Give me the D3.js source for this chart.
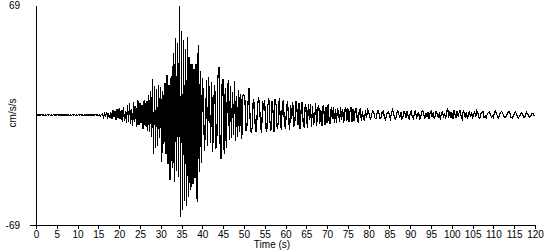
<!DOCTYPE html>
<html>
<head>
<meta charset="utf-8">
<script src="https://cdn.jsdelivr.net/npm/d3@7"></script>
<style>
    body { margin: 0; background: #fff; }
    text { font-family: 'Liberation Sans', Arial, sans-serif; font-size: 10px; fill: #000; }
</style>
</head>
<body>
<div class="chart"></div>
<script>
const width = 550;
const height = 250;

// x tick labels (s) and y range labels (cm/s/s)
const timeTicks = [0, 5, 10, 15, 20, 25, 30, 35, 40, 45, 50, 55, 60, 65, 70, 75, 80, 85, 90, 95, 100, 105, 110, 115, 120];
const accelTicks = [-69, 69];

// sample spacing of the trace, seconds
const dt = 0.25;

// acceleration trace, cm/s/s (4 samples per second)
const accel = [
    0, 0.2, -0.2, 0.1, -0.2, 0.2, -0.1, 0.2, -0.2, 0.1, -0.2, 0.2, -0.1, 0.2, -0.2, 0.1,
    -0.2, 0.2, -0.2, 0.1, -0.1, 0.2, -0.2, 0.2, -0.2, 0.1, -0.1, 0.2, -0.2, 0.2, -0.1, 0.1,
    -0.2, 0.1, -0.2, 0.2, -0.1, 0.2, -0.2, 0.1, -0.2, 0.2, -0.1, 0.2, -0.2, 0.1, -0.2, 0.2,
    -0.1, 0.2, -0.2, 0.1, -0.2, 0.2, -0.3, 0.2, -0.2, 0.3, -0.2, 0.3, -0.4, 0.3, -0.5, 0.4,
    // 16 s
    0.8, -1.2, 1.5, -0.9, 1.8, -1.4, 0.6, -2.1, 1.6, -2.4, 2.9, -1.3, 2.2, -3.1, 3.8, -2.0,
    4.1, -2.7, 3.2, -4.6, 5.3, -3.5, 2.4, -5.1, 6.2, -4.4, 7.5, -5.8, 3.9, -6.9, 8.1, -4.2,
    5.6, -7.8, 9.4, -6.1, 7.2, -5.3, 6.4, -8.6, 9.3, -7.1, 8.8, -9.9, 12.4, -10.5, 15.2, -13.8,
    // 28 s
    22.6, -24.3, 18.1, -20.7, 16.4, -19.2, 18.9, -14.6, 17.8, -29.5, 15.3, -18.4,
    20.1, -24.2, 25.3, -30.7, 18.6, -40.8, 24.4, -33.1, 39.2, -41.9, 48.6, -35.3,
    45.1, -38.6, 68.2, -63.8, 52.7, -59.6, 47.3, -54.2, 41.5, -56.8, 48.9, -51.3,
    36.4, -47.2, 31.8, -43.5, 28.9, -39.7, 32.1, -54.8, 43.6, -35.8, 27.4, -30.2,
    // 40 s
    23.4, 12.1, -22.6, -8.3, 21.8, -19.5, 24.1, 6.2, -17.3, 20.6, -23.1, 9.4,
    18.9, -21.4, -14.2, 23.7, 29.8, -16.8, -27.9, 19.4, 22.3, -24.6, 17.1, -20.8,
    13.5, 21.9, -15.7, 18.3, -14.2, 14.6, -12.3, 21.5, -16.1, 11.8, -13.6, 15.9,
    -10.4, 13.2, -14.8, 12.1,
    // 50 s
    12.7, 9.1, -9.8, -6.2, 8.4, 17.2, -3.1, -11.3, -7.6, 10.2, 6.8, -9.4,
    -10.8, 4.5, 11.3, 7.2, -6.9, -11.4, 8.7, 3.2, 9.6, -8.2, -10.5, 5.8,
    10.3, -4.1, -9.7, 8.5, 2.4, -10.6, 9.8, 6.1, -8.8, -5.3, 10.9, -2.7,
    -9.5, 7.7, 9.2, -6.4,
    // 60 s
    -8.6, 4.3, 8.9, -3.8, -9.1, 6.5, -2.2, 8.3, -7.4, -4.9, 9.0, 3.6,
    -6.2, 7.8, -8.7, 2.9, 8.4, -5.1, -7.9, 6.6, 4.2, -8.3, 7.1, -3.4,
    6.9, -7.2, 5.5, -6.1, -2.8, 7.4, -6.8, 4.1, 6.2, -5.7, 3.3, -7.0,
    5.9, 2.1, -6.4, 4.8,
    // 70 s
    -5.3, 6.6, -3.9, -5.8, 5.1, -2.6, 4.7, -4.9, 3.8, -5.2, 4.4, 1.6,
    -4.6, 5.3, -3.2, 3.9, -5.0, 2.8, 4.6, -3.7, 4.1, -4.4, 1.9, 5.0,
    -4.2, 3.5, -3.6, 2.4, 4.6, -2.3, -4.8, 3.1, 3.7, -3.9, 2.6, -2.8,
    -3.3, 2.9, -1.8, 3.4,
    // 80 s
    1.8, -1.2, -2.6, 0.9, 2.7, 1.4, -1.9, -2.4, 0.6, 2.9, 1.1, -2.2,
    -1.5, 1.8, 2.4, -0.7, -2.8, -1.1, 1.6, 2.1, -0.4, -2.3, 1.3, 3.1,
    0.8, -1.9, -2.7, 1.2, 2.5, 0.3, -1.6, 1.9, -2.4, -0.9, 2.2, 1.0,
    -1.8, 2.6, -0.5, -2.9,
    // 90 s
    1.4, 2.3, -1.2, -2.1, 0.9, 3.0, -1.7, -0.6, 2.1, -2.5, -1.3, 1.7,
    2.8, 0.4, -2.2, 1.1, -1.4, 1.9, -2.6, 0.7, 2.4, -1.1, 1.5, -2.3,
    -0.8, 2.7, 0.5, -1.9, 1.6, -2.8, 1.2, 2.0, -1.5, 0.9, -2.4, 1.8,
    4.4, -1.6, 2.3, -2.1,
    // 100 s
    1.7, -2.7, 2.9, 0.6, -1.9, 2.2, -0.7, 1.4, 3.3, -1.2, -2.5, 2.8,
    1.1, -1.8, 2.0, -2.6, 0.5, 2.4, -1.4, 1.6, -2.2, 0.8, 1.9, -0.9,
    2.5, 1.2, -1.7, -2.0, 0.7, 1.8, 2.2, -1.5, -0.6, -1.9, 0.4, 1.5,
    2.0, 0.8, -1.3, -0.4,
    // 110 s
    -1.6, 1.7, 2.3, 0.9, -1.2, -2.1, 0.6, 1.8, 2.2, 1.0, -0.8, -1.7,
    -1.3, 0.4, 1.6, 2.0, 0.7, -1.5, -2.0, -0.9, 0.6, 1.9, 1.1, -0.8,
    -1.8, -1.0, 0.5, 1.4, 0.9, -1.2, -1.5, 0.3, 1.6, 0.8, -0.6, -1.3,
    -0.5, 0.9, 1.2, -0.4,
    0
];

buildChart();


function buildChart() {

    const svg = d3.select('.chart')
        .append('svg')
        .attr('width', width)
        .attr('height', height);

    const x = d3.scaleLinear()
        .domain([0, 120])
        .range([36, 535]);

    const y = d3.scaleLinear()
        .domain([-69, 69])
        .range([225, 5]);

    // Trace
    const trace = d3.line()
        .x((d, i) => x(i * dt))
        .y((d) => y(d));

    svg.append('path')
        .datum(accel)
        .attr('d', trace)
        .attr('fill', 'none')
        .attr('stroke', '#000')
        .attr('stroke-width', 1.2)
        .attr('shape-rendering', 'crispEdges');

    // X axis
    const xAxis = svg.append('g')
        .attr('transform', 'translate(0, 225)')
        .call(d3.axisBottom(x)
            .tickValues(timeTicks)
            .tickFormat((d) => String(d))
            .tickSize(4)
            .tickSizeOuter(0)
            .tickPadding(2));

    // Y axis, hyphen instead of the minus sign d3 uses
    const yAxis = svg.append('g')
        .attr('transform', 'translate(36, 0)')
        .call(d3.axisLeft(y)
            .tickValues(accelTicks)
            .tickFormat((d) => String(d))
            .tickSize(6)
            .tickSizeOuter(0)
            .tickPadding(10));

    yAxis.selectAll('.tick')
        .filter((d) => d > 0)
        .select('line')
        .remove();

    svg.selectAll('.tick text')
        .style('font-size', '10px')
        .style('font-family', "'Liberation Sans', Arial, sans-serif");

    svg.selectAll('.domain, .tick line')
        .attr('stroke', '#000')
        .attr('shape-rendering', 'crispEdges');

    // Axis titles
    svg.append('text')
        .attr('x', 272)
        .attr('y', 248)
        .attr('text-anchor', 'middle')
        .text('Time (s)');

    svg.append('text')
        .attr('transform', 'translate(16, 113) rotate(-90)')
        .attr('text-anchor', 'middle')
        .text('cm/s/s');
}
</script>
</body>
</html>
